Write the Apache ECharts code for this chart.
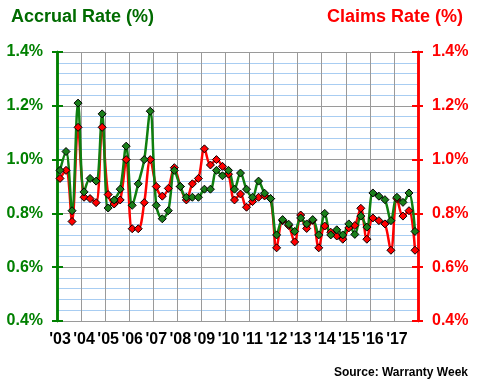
<!DOCTYPE html>
<html>
<head>
<meta charset="utf-8">
<script src="https://cdn.jsdelivr.net/npm/echarts@6/dist/echarts.min.js"></script>
<style>
html,body{margin:0;padding:0;background:#fff;}
#chart{width:480px;height:380px;}
</style>
</head>
<body>
<div id="chart"></div>
<script>
// Tick labels (one per year, 4 quarters each)
var years = ["'03","'04","'05","'06","'07","'08","'09","'10","'11","'12","'13","'14","'15","'16","'17"];
var yTicks = [0.4, 0.6, 0.8, 1.0, 1.2, 1.4];

// Accrual rate (%) by quarter, 2003 Q1 - 2017 Q4
var accrual = [
  0.96, 1.03, 0.81, 1.21, 0.88, 0.93, 0.92, 1.17, 0.82, 0.85,
  0.89, 1.05, 0.83, 0.91, 1.00, 1.18, 0.83, 0.78, 0.81, 0.96,
  0.90, 0.86, 0.86, 0.86, 0.89, 0.89, 0.96, 0.94, 0.96, 0.89,
  0.95, 0.89, 0.86, 0.92, 0.875, 0.855, 0.72, 0.777, 0.76, 0.733,
  0.783, 0.761, 0.777, 0.72, 0.80, 0.72, 0.739, 0.72, 0.761, 0.722,
  0.79, 0.749, 0.876, 0.864, 0.851, 0.773, 0.86, 0.841, 0.876, 0.733
];
// Claims rate (%) by quarter
var claims = [
  0.93, 0.96, 0.77, 1.12, 0.86, 0.855, 0.84, 1.12, 0.87, 0.835,
  0.85, 1.00, 0.743, 0.743, 0.84, 1.00, 0.90, 0.864, 0.893, 0.97,
  0.90, 0.85, 0.91, 0.93, 1.04, 0.98, 1.00, 0.975, 0.946, 0.85,
  0.872, 0.823, 0.844, 0.86, 0.865, 0.855, 0.672, 0.773, 0.755, 0.694,
  0.794, 0.744, 0.774, 0.672, 0.753, 0.73, 0.716, 0.704, 0.746, 0.755,
  0.819, 0.704, 0.783, 0.773, 0.761, 0.663, 0.855, 0.79, 0.81, 0.663
];

var categories = [];
years.forEach(function (y) { for (var q = 1; q <= 4; q++) categories.push(y + ' Q' + q); });

var FONT = "'Liberation Sans', Arial, sans-serif";
var GREEN = '#008000';
var GREEN_LINE = '#0f7f0f';
var RED = '#ff0000';

function yAxisDef(pos, color, withLabels, inside) {
  return {
    type: 'value', position: pos, offset: 0,
    min: yTicks[0], max: yTicks[yTicks.length - 1], interval: 0.2,
    axisLine: { show: true, onZero: false, lineStyle: { color: color, width: 2.5 } },
    axisTick: { show: true, inside: inside, length: inside ? 6 : 5, lineStyle: { color: color, width: 2 } },
    axisLabel: {
      show: withLabels, margin: 14, color: color,
      fontFamily: FONT, fontSize: 16, fontWeight: 'bold',
      formatter: function (v) { return v.toFixed(1) + '%'; }
    },
    splitLine: { show: withLabels && pos === 'left', lineStyle: { color: '#9a9a9a', width: 1 } },
    minorTick: { show: false, splitNumber: 5 },
    minorSplitLine: { show: withLabels && pos === 'left', lineStyle: { color: '#a8cdf2', width: 1 } }
  };
}

var chart = echarts.init(document.getElementById('chart'), null, { renderer: 'canvas' });
chart.setOption({
  animation: false,
  backgroundColor: '#fff',
  title: [
    { text: 'Accrual Rate (%)', left: 6, top: 3,
      textStyle: { color: '#006b00', fontFamily: FONT, fontSize: 18, fontWeight: 'bold' } },
    { text: 'Claims Rate (%)', right: 12, top: 3,
      textStyle: { color: RED, fontFamily: FONT, fontSize: 18, fontWeight: 'bold' } },
    { text: 'Source: Warranty Week', right: 7, top: 362,
      textStyle: { color: '#000', fontFamily: FONT, fontSize: 12, fontWeight: 'bold' } }
  ],
  grid: { left: 57, right: 62, top: 52, bottom: 59, containLabel: false },
  xAxis: {
    type: 'category', data: categories, boundaryGap: true,
    axisLine: { show: true, lineStyle: { color: '#9a9a9a', width: 1 } },
    axisTick: { show: false },
    axisLabel: {
      interval: function (i) { return i % 4 === 0; },
      formatter: function (v) { return v.split(' ')[0]; },
      color: '#000', fontFamily: FONT, fontSize: 16, fontWeight: 'bold', margin: 11
    },
    splitLine: { show: true, interval: function (i) { return i % 4 === 0; },
      lineStyle: { color: '#9a9a9a', width: 1 } }
  },
  yAxis: [
    yAxisDef('left', GREEN, true, false),
    yAxisDef('left', GREEN, false, true),
    yAxisDef('right', RED, true, false),
    yAxisDef('right', RED, false, true)
  ],
  series: [
    { name: 'Claims Rate', type: 'line', yAxisIndex: 2, data: claims, smooth: 0.35,
      symbol: 'diamond', symbolSize: 8, showAllSymbol: true,
      lineStyle: { color: RED, width: 2.5 },
      itemStyle: { color: RED, borderColor: '#000', borderWidth: 1 } },
    { name: 'Accrual Rate', type: 'line', yAxisIndex: 0, data: accrual, smooth: 0.35,
      symbol: 'diamond', symbolSize: 8, showAllSymbol: true,
      lineStyle: { color: GREEN_LINE, width: 2.5 },
      itemStyle: { color: '#1a7f1a', borderColor: '#000', borderWidth: 1 } }
  ]
});
</script>
</body>
</html>
